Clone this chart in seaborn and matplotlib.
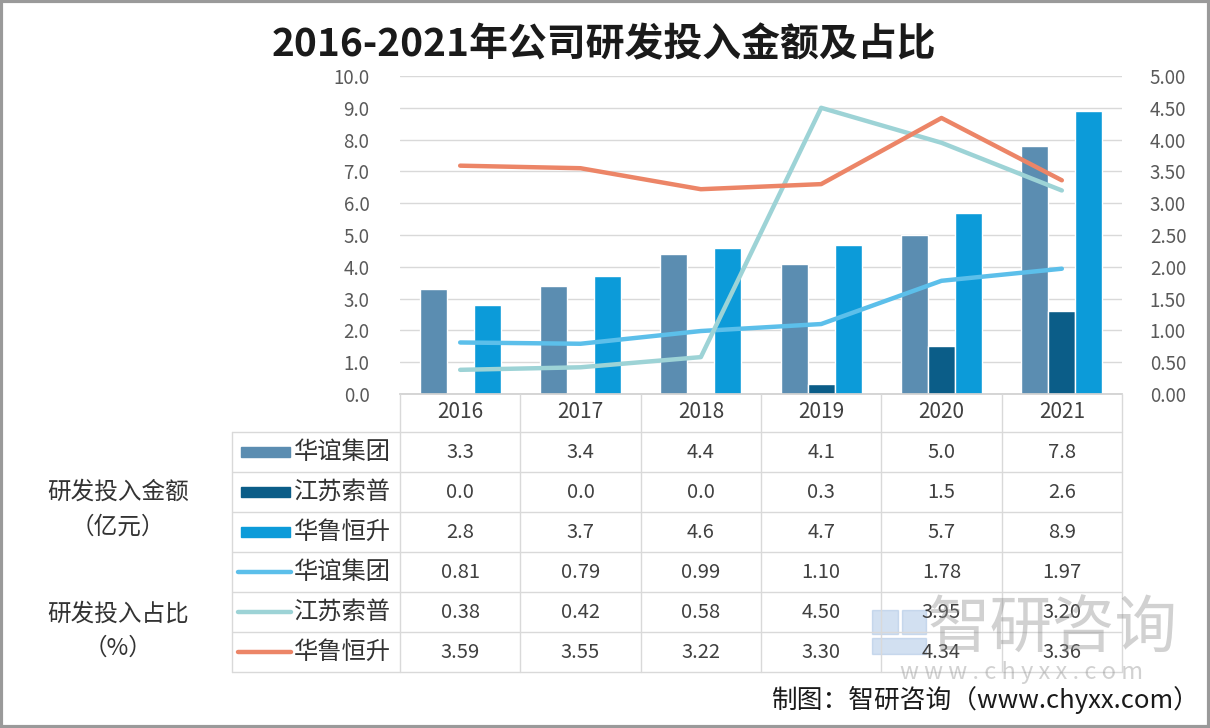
import numpy as np
import pandas as pd
import matplotlib
matplotlib.use("Agg")
import matplotlib.pyplot as plt
import seaborn as sns
from matplotlib.patches import Rectangle
from matplotlib.lines import Line2D

# data
years = ["2016", "2017", "2018", "2019", "2020", "2021"]
companies = ["华谊集团", "江苏索普", "华鲁恒升"]
amount_huayi = [3.3, 3.4, 4.4, 4.1, 5.0, 7.8]
amount_suopu = [0.0, 0.0, 0.0, 0.3, 1.5, 2.6]
amount_hualu = [2.8, 3.7, 4.6, 4.7, 5.7, 8.9]
ratio_huayi = [0.81, 0.79, 0.99, 1.10, 1.78, 1.97]
ratio_suopu = [0.38, 0.42, 0.58, 4.50, 3.95, 3.20]
ratio_hualu = [3.59, 3.55, 3.22, 3.30, 4.34, 3.36]

amounts = [amount_huayi, amount_suopu, amount_hualu]
ratios = [ratio_huayi, ratio_suopu, ratio_hualu]
bar_colors = ["#5b8db1", "#0b5d88", "#0c9bd9"]
line_colors = ["#5cbfea", "#9dd3d6", "#ec8567"]

sns.set_theme(style="white")
plt.rcParams["font.family"] = ["Noto Sans CJK SC", "DejaVu Sans"]
plt.rcParams["axes.unicode_minus"] = False

W, H = 1210, 728
fig = plt.figure(figsize=(W / 100, H / 100), dpi=100)
fig.patch.set_facecolor("white")

# plot area in pixels
left, right, top, bottom = 400, 1122, 76, 394
ax = fig.add_axes([left / W, 1 - bottom / H, (right - left) / W, (bottom - top) / H])

df_bar = pd.DataFrame({
    "年份": years * 3,
    "公司": [c for c in companies for _ in years],
    "金额": amount_huayi + amount_suopu + amount_hualu,
})
sns.barplot(data=df_bar, x="年份", y="金额", hue="公司", hue_order=companies,
            palette=bar_colors, saturation=1, width=0.675, legend=False, ax=ax)

ax.set_ylim(0, 10)
ax.set_xlim(-0.5, len(years) - 0.5)
ax.set_yticks(np.arange(0, 10.01, 1.0))
ax.set_yticklabels([f"{v:.1f}" for v in np.arange(0, 10.01, 1.0)])
ax.set_xticks([])
ax.set_xlabel("")
ax.set_ylabel("")
ax.grid(axis="y", color="#d9d9d9", linewidth=1)
ax.set_axisbelow(True)
for s in ["left", "right", "top"]:
    ax.spines[s].set_visible(False)
ax.spines["bottom"].set_color("#d0d0d0")
ax.tick_params(axis="y", length=0, labelsize=13.5, labelcolor="#595959", pad=22)

ax2 = ax.twinx()
xpos = np.arange(len(years))
for vals, c in zip(ratios, line_colors):
    sns.lineplot(x=xpos, y=vals, color=c, linewidth=3.2, ax=ax2,
                 solid_capstyle="round")
ax2.set_ylim(0, 5)
ax2.set_yticks(np.arange(0, 5.01, 0.5))
ax2.set_yticklabels([f"{v:.2f}" for v in np.arange(0, 5.01, 0.5)])
for s in ax2.spines.values():
    s.set_visible(False)
ax2.tick_params(axis="y", length=0, labelsize=13.5, labelcolor="#595959", pad=20)
ax2.set_ylabel("")
ax2.set_xlim(-0.5, len(years) - 0.5)

# overlay in pixel coordinates for title, table and notes
ov = fig.add_axes([0, 0, 1, 1], facecolor="none")
ov.set_xlim(0, W)
ov.set_ylim(H, 0)
ov.axis("off")

ov.text(604, 45, "2016-2021年公司研发投入金额及占比", ha="center", va="center",
        fontsize=28, fontweight="bold", color="#1a1a1a")

# data table
col_w = (right - left) / len(years)
row_top, row_h = 432, 40
grid_c = "#d9d9d9"
n_rows = 6
for i in range(n_rows + 1):
    y = row_top + i * row_h
    ov.add_line(Line2D([232, right], [y, y], color=grid_c, lw=1))
for j in range(len(years) + 1):
    x = left + j * col_w
    ov.add_line(Line2D([x, x], [bottom, row_top + n_rows * row_h], color=grid_c, lw=1))
ov.add_line(Line2D([232, 232], [row_top, row_top + n_rows * row_h], color=grid_c, lw=1))

for j, yr in enumerate(years):
    ov.text(left + (j + 0.5) * col_w, 412, yr, ha="center", va="center",
            fontsize=15, color="#404040")

rows = [(companies[k], amounts[k], "bar", bar_colors[k], "{:.1f}") for k in range(3)]
rows += [(companies[k], ratios[k], "line", line_colors[k], "{:.2f}") for k in range(3)]
for i, (name, vals, kind, c, fmt) in enumerate(rows):
    yc = row_top + (i + 0.5) * row_h
    if kind == "bar":
        ov.add_patch(Rectangle((241, yc - 5), 49, 10, color=c))
    else:
        ov.add_line(Line2D([238, 291], [yc, yc], color=c, lw=3.2,
                           solid_capstyle="round"))
    ov.text(294, yc, name, ha="left", va="center", fontsize=17.5, color="#333333")
    for j, v in enumerate(vals):
        ov.text(left + (j + 0.5) * col_w, yc, fmt.format(v), ha="center",
                va="center", fontsize=14.5, color="#404040")

ov.text(118, 492, "研发投入金额", ha="center", va="center", fontsize=17, color="#333333")
ov.text(118, 527, "（亿元）", ha="center", va="center", fontsize=17, color="#333333")
ov.text(118, 614, "研发投入占比", ha="center", va="center", fontsize=17, color="#333333")
ov.text(118, 648, "（%）", ha="center", va="center", fontsize=17, color="#333333")

# watermark
ov.text(1052, 630, "智研咨询", ha="center", va="center", fontsize=45,
        color="#8c8c8c", alpha=0.4)
ov.text(1022, 673, "w w w . c h y x x . c o m", ha="center", va="center",
        fontsize=17, color="#8c8c8c", alpha=0.4)
ov.add_patch(Rectangle((872, 610), 26, 24, color="#9dbbe0", alpha=0.45))
ov.add_patch(Rectangle((902, 610), 24, 24, color="#9dbbe0", alpha=0.45))
ov.add_patch(Rectangle((872, 638), 54, 16, color="#9dbbe0", alpha=0.45))

ov.text(1200, 700, "制图：智研咨询（www.chyxx.com）", ha="right", va="center",
        fontsize=18.5, color="#1a1a1a")

# outer frame
ov.add_patch(Rectangle((1, 1), W - 2, H - 2, fill=False, edgecolor="#9a9a9a", lw=3))

fig.savefig("out.png", dpi=100)
